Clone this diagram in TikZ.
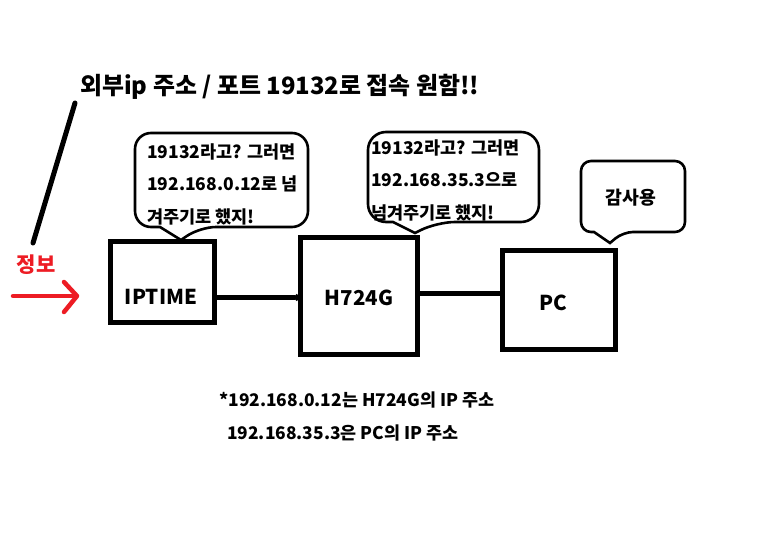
\documentclass[tikz,border=0pt]{standalone}
\usepackage{fontspec}
\setmainfont{Noto Sans CJK KR}
\usetikzlibrary{arrows.meta}
\definecolor{paintred}{RGB}{237,28,36}
\begin{document}
\begin{tikzpicture}[x=1pt,y=-1pt,
  box/.style={draw,line width=5pt,inner sep=0pt,minimum width=#1},
  lbl/.style={font=\fontsize{20.5}{22}\selectfont\bfseries},
  btxt/.style={anchor=west,align=left,inner sep=0pt,font=\fontsize{17.5}{32.5}\selectfont\bfseries},
  bubble/.style={draw,line width=2.6pt,rounded corners=#1},
  wire/.style={line width=5pt},
  note/.style={anchor=west,inner sep=0pt,font=\fontsize{17.4}{19}\selectfont\bfseries}]
\fill[white] (0,0) rectangle (771,540);
\path[use as bounding box] (0,0) rectangle (771,540);

% title
\node[anchor=west,inner sep=0pt,font=\fontsize{23.9}{25}\selectfont\bfseries] (title) at (80,87) {외부ip 주소 / 포트 19132로 접속 원함!!};
\coordinate (ptrA) at (75,103);
\coordinate (ptrB) at (33,243);
\draw[line width=5pt,line cap=round] (ptrA) -- (ptrB);

% info arrow
\node[text=paintred,inner sep=0pt,font=\fontsize{21}{22}\selectfont\bfseries] (info) at (36,265) {정보};
\coordinate (arrS) at (13,296);
\coordinate (arrE) at (77,296);
\coordinate (arrU) at (64,282);
\coordinate (arrD) at (64,312);
\draw[paintred,line width=4.5pt,line cap=round] (arrS) -- (arrE);
\draw[paintred,line width=4.5pt,line cap=round,line join=round] (arrU) -- (arrE) -- (arrD);

% boxes
\node[box=104pt,minimum height=80pt] (iptime) at (162,282) {};
\node[box=117.5pt,minimum height=117.5pt] (h724g) at (359,296) {};
\node[box=112.5pt,minimum height=99pt] (pc) at (559,299.5) {};
\node[lbl] (iptimeL) at (161,297) {IPTIME};
\node[lbl] (h724gL) at (359,298) {H724G};
\node[lbl] (pcL) at (553,303) {PC};

% connectors
\coordinate (c1) at (0,297.5);
\coordinate (c2) at (0,293);
\draw[wire,-{Circle[length=6pt,width=6pt]}] (iptime.east |- c1) -- ([xshift=2pt]h724g.west |- c1);
\draw[wire] (h724g.east |- c2) -- (pc.west |- c2);

% bubble 1
\draw[bubble=16pt] (135,133) -- (308,133) -- (308,227) -- (200,227) [sharp corners] -- (181,240) -- (160,227) [rounded corners=16pt] -- (135,227) -- cycle;
\node[btxt] (b1) at (147,184) {19132라고? 그러면\\192.168.0.12로 넘\\겨주기로 했지!};

% bubble 2
\draw[bubble=18pt] (368,132) -- (539,132) -- (539,222) -- (437,222) [sharp corners] -- (415,233) -- (393,222) [rounded corners=18pt] -- (368,222) -- cycle;
\node[btxt] (b2) at (371,180) {19132라고? 그러면\\192.168.35.3으로\\넘겨주기로 했지!};

% bubble 3
\draw[bubble=10pt] (581,161) -- (685,161) -- (685,232) -- (623,232) [sharp corners] -- (610,243) -- (594,232) [rounded corners=10pt] -- (581,232) -- cycle;
\node[inner sep=0pt,font=\fontsize{18.3}{20}\selectfont\bfseries] (b3) at (631,198) {감사용};

% notes
\node[note] (n1) at (219,400) {*192.168.0.12는 H724G의 IP 주소};
\node[note] (n2) at (227,433) {192.168.35.3은 PC의 IP 주소};
\end{tikzpicture}
\end{document}
